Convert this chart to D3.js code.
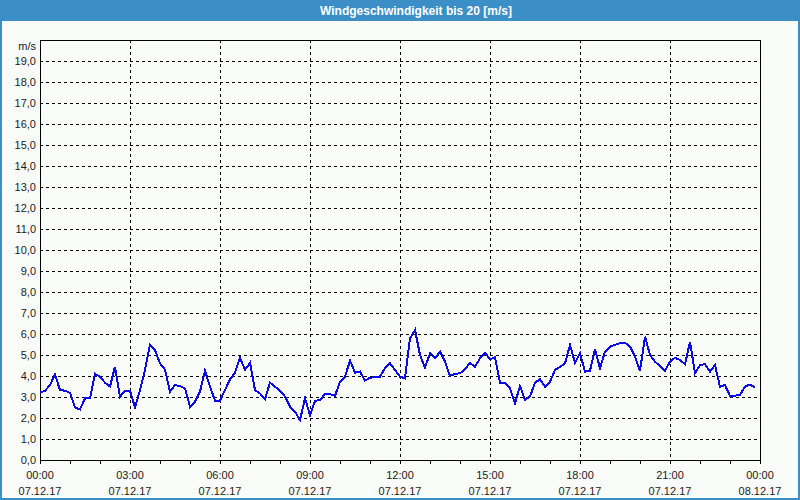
<!DOCTYPE html>
<html>
<head>
<meta charset="utf-8">
<script src="https://cdn.jsdelivr.net/npm/d3@7"></script>
<style>
  html, body { margin: 0; padding: 0; background: #fafcfa; }
  svg { display: block; }
</style>
</head>
<body>
<svg id="chart" width="800" height="500"></svg>
<script>
// ---- Data ----
const title = "Windgeschwindigkeit bis 20 [m/s]";
const unitLabel = "m/s";
const startTime = "2017-12-07T00:00:00";
const endTime = "2017-12-08T00:00:00";
const intervalMinutes = 10;
const windSpeed = [
  3.22, 3.29, 3.57, 4.08, 3.33, 3.30, 3.20, 2.50, 2.41, 2.94,
  2.94, 4.10, 3.97, 3.68, 3.50, 4.44, 3.00, 3.30, 3.30, 2.50,
  3.33, 4.29, 5.48, 5.24, 4.60, 4.30, 3.25, 3.57, 3.52, 3.41,
  2.54, 2.78, 3.25, 4.25, 3.49, 2.83, 2.83, 3.33, 3.84, 4.16,
  4.87, 4.29, 4.63, 3.33, 3.17, 2.90, 3.68, 3.49, 3.30, 3.02,
  2.54, 2.30, 1.90, 2.94, 2.14, 2.81, 2.86, 3.14, 3.14, 3.05,
  3.73, 3.97, 4.73, 4.16, 4.21, 3.78, 3.92, 3.94, 3.97, 4.37,
  4.60, 4.29, 3.97, 3.89, 5.79, 6.19, 5.00, 4.40, 5.08, 4.84,
  5.16, 4.68, 4.00, 4.10, 4.13, 4.32, 4.62, 4.44, 4.84, 5.11,
  4.79, 4.89, 3.68, 3.65, 3.41, 2.70, 3.52, 2.86, 3.02, 3.68,
  3.84, 3.49, 3.73, 4.29, 4.44, 4.60, 5.48, 4.63, 5.08, 4.21,
  4.25, 5.27, 4.37, 5.16, 5.40, 5.48, 5.56, 5.59, 5.40, 4.92,
  4.25, 5.87, 5.00, 4.68, 4.48, 4.25, 4.68, 4.87, 4.76, 4.56,
  5.63, 4.13, 4.52, 4.56, 4.21, 4.52, 3.49, 3.57, 3.05, 3.06,
  3.10, 3.49, 3.60, 3.45
];
const yTickValues = [0,1,2,3,4,5,6,7,8,9,10,11,12,13,14,15,16,17,18,19];
const yMax = 20;
const xLabelHours = [0,3,6,9,12,15,18,21,24];

// ---- Setup ----
const W = 800, H = 500;
const margin = {left: 40, right: 40, top: 40, bottom: 40};
const svg = d3.select("#chart");
const fontFamily = "'Liberation Sans', Arial, sans-serif";

const t0 = new Date(startTime), t1 = new Date(endTime);
const points = windSpeed.map((v, i) => ({t: new Date(t0.getTime() + i * intervalMinutes * 60000), v}));

const x = d3.scaleTime().domain([t0, t1]).range([margin.left, W - margin.right]);
const y = d3.scaleLinear().domain([0, yMax]).range([H - margin.bottom, margin.top]);

// background
svg.append("rect").attr("x", 0).attr("y", 0).attr("width", W).attr("height", H).attr("fill", "#fafcfa");

// window frame + title bar
const frameColor = "#3b8fc6";
svg.append("rect").attr("x", 1).attr("y", 1).attr("width", W - 2).attr("height", H - 2)
  .attr("fill", "none").attr("stroke", frameColor).attr("stroke-width", 2);
svg.append("rect").attr("x", 0).attr("y", 0).attr("width", W).attr("height", 21).attr("fill", frameColor);
svg.append("text").attr("x", 416).attr("y", 15).attr("text-anchor", "middle")
  .attr("fill", "#ffffff").attr("font-family", fontFamily).attr("font-size", 12).attr("font-weight", "bold")
  .text(title);

// grid lines horizontal
const g = svg.append("g");
g.selectAll("line.hgrid").data(yTickValues.filter(d => d > 0)).join("line")
  .attr("class", "hgrid")
  .attr("x1", margin.left).attr("x2", W - margin.right)
  .attr("y1", d => Math.round(y(d)) + 0.5).attr("y2", d => Math.round(y(d)) + 0.5)
  .attr("stroke", "#000").attr("stroke-width", 1).attr("stroke-dasharray", "3,3");

// vertical grid lines every 3h
const vHours = xLabelHours.filter(h => h > 0 && h < 24);
g.selectAll("line.vgrid").data(vHours).join("line")
  .attr("class", "vgrid")
  .attr("x1", h => Math.round(x(new Date(t0.getTime() + h * 3600000))) + 0.5)
  .attr("x2", h => Math.round(x(new Date(t0.getTime() + h * 3600000))) + 0.5)
  .attr("y1", margin.top).attr("y2", H - margin.bottom)
  .attr("stroke", "#000").attr("stroke-width", 1).attr("stroke-dasharray", "3,3");

// y axis labels
const yAxis = d3.axisLeft(y).tickValues(yTickValues).tickSize(0).tickPadding(4)
  .tickFormat(d => d3.format(".1f")(d).replace(".", ","));
const yg = svg.append("g").attr("transform", `translate(${margin.left},0)`).call(yAxis);
yg.select(".domain").remove();
yg.selectAll("text").attr("font-family", fontFamily).attr("font-size", 11).attr("fill", "#1a1a1a");

svg.append("text").attr("x", 36).attr("y", 50).attr("text-anchor", "end")
  .attr("font-family", fontFamily).attr("font-size", 11).attr("fill", "#1a1a1a").text(unitLabel);

// x axis: hourly ticks, labels every 3 hours
const xAxis = d3.axisBottom(x).ticks(d3.timeHour.every(1)).tickSize(4).tickFormat("");
const xg = svg.append("g").attr("transform", `translate(0,${H - margin.bottom})`).call(xAxis);
xg.select(".domain").remove();
xg.selectAll("line").attr("stroke", "#000");

const fmtTime = d3.timeFormat("%H:%M"), fmtDate = d3.timeFormat("%d.%m.%y");
const labels = svg.append("g");
xLabelHours.forEach(h => {
  const d = new Date(t0.getTime() + h * 3600000);
  const xt = labels.append("text").attr("x", x(d)).attr("text-anchor", "middle")
    .attr("font-family", fontFamily).attr("font-size", 11).attr("fill", "#1a1a1a");
  xt.append("tspan").attr("x", x(d)).attr("y", 479).text(fmtTime(d));
  xt.append("tspan").attr("x", x(d)).attr("y", 495).text(fmtDate(d));
});

// plot frame
svg.append("rect").attr("x", margin.left + 0.5).attr("y", margin.top + 0.5)
  .attr("width", W - margin.left - margin.right).attr("height", H - margin.top - margin.bottom)
  .attr("fill", "none").attr("stroke", "#000").attr("stroke-width", 1);

// data line
const line = d3.line().x(d => x(d.t)).y(d => y(d.v));
svg.append("path").datum(points).attr("d", line)
  .attr("fill", "none").attr("stroke", "#0a0ae6").attr("stroke-width", 2)
  .attr("stroke-linejoin", "miter").attr("shape-rendering", "crispEdges");
</script>
</body>
</html>
